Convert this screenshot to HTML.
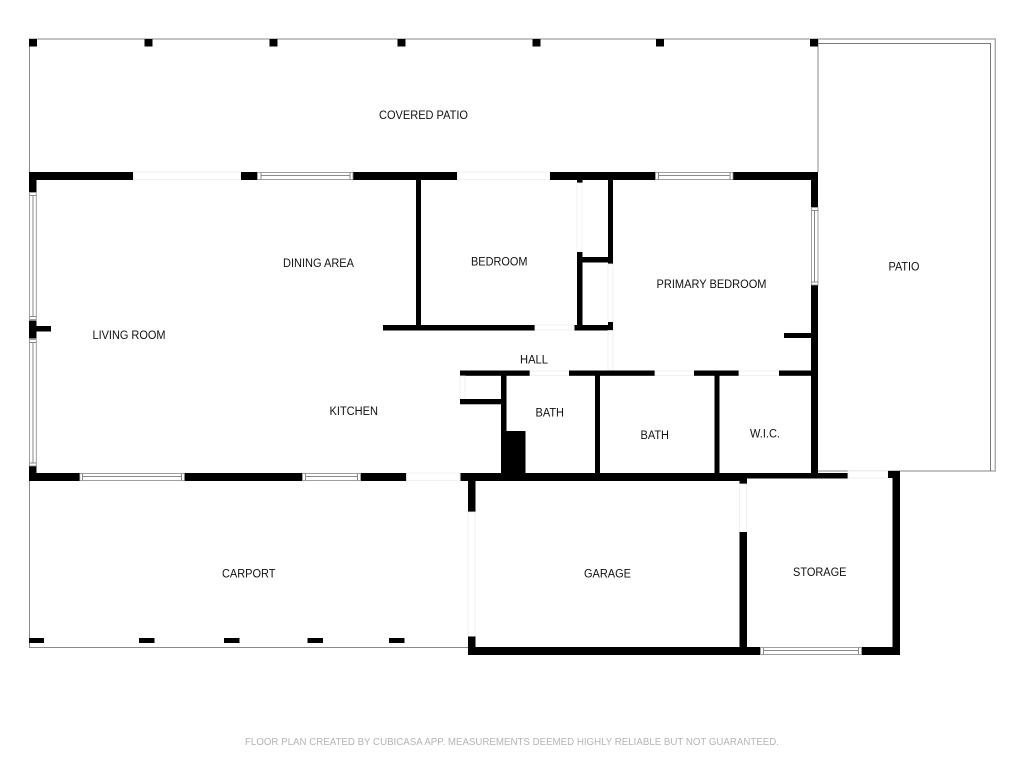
<!DOCTYPE html>
<html>
<head>
<meta charset="utf-8">
<style>
html,body{margin:0;padding:0;background:#fff;width:1024px;height:768px;overflow:hidden}
svg{display:block}
text{font-family:"Liberation Sans",sans-serif;font-size:11.5px;fill:#111}
.w{fill:#000}
.d{fill:#fff;stroke:#eee;stroke-width:.8}
.l{fill:none;stroke:#8a8a8a;stroke-width:1}
.win{fill:#fff;stroke:#888;stroke-width:.8}
</style>
</head>
<body>
<svg width="1024" height="768" viewBox="0 0 1024 768" xmlns="http://www.w3.org/2000/svg">
<rect width="1024" height="768" fill="#fff"/>

<!-- outlines -->
<path class="l" d="M29.5 172V39H818V172"/>
<path class="l" d="M818 39H995.5V471H818"/>
<path d="M818 43.5H990.5V471" fill="none" stroke="#777" stroke-width="1"/>
<path d="M995.3 39V471" fill="none" stroke="#aaa" stroke-width="1.4"/>
<path class="l" d="M29.5 481V647.5H468"/>

<!-- patio posts -->
<rect class="w" x="29" y="39" width="8" height="7.5"/>
<rect class="w" x="144.5" y="39" width="8" height="7.5"/>
<rect class="w" x="269.5" y="39" width="8" height="7.5"/>
<rect class="w" x="397.5" y="39" width="8" height="7.5"/>
<rect class="w" x="532.5" y="39" width="8" height="7.5"/>
<rect class="w" x="656" y="39" width="8" height="7.5"/>
<rect class="w" x="810" y="39" width="8" height="7.5"/>

<!-- carport posts -->
<rect class="w" x="29" y="638" width="15" height="5"/>
<rect class="w" x="139" y="638" width="15.5" height="5"/>
<rect class="w" x="224" y="638" width="15.5" height="5"/>
<rect class="w" x="307.5" y="638" width="15.5" height="5"/>
<rect class="w" x="389" y="638" width="15.5" height="5"/>

<!-- top wall -->
<rect class="w" x="29" y="172" width="104" height="8"/>
<rect class="d" x="133.5" y="172" width="107" height="7.5"/>
<rect class="w" x="241" y="172" width="16" height="8"/>
<rect class="w" x="353" y="172" width="104" height="8"/>
<rect class="d" x="457.5" y="172" width="92" height="7.5"/>
<rect class="w" x="550" y="172" width="105" height="8"/>
<rect class="w" x="733" y="172" width="85" height="8"/>

<!-- left wall -->
<rect class="w" x="29" y="172" width="7.5" height="20"/>
<rect class="w" x="29" y="320.5" width="7.5" height="18"/>
<rect class="w" x="36" y="326" width="15" height="5.5"/>
<rect class="w" x="29" y="466" width="7.5" height="15"/>

<!-- bottom wall -->
<rect class="w" x="29" y="473" width="50.5" height="8"/>
<rect class="w" x="184.5" y="473" width="117.5" height="8"/>
<rect class="w" x="361" y="473" width="45.5" height="8"/>
<rect class="d" x="406.5" y="473" width="53.5" height="7.5"/>
<rect class="w" x="460.5" y="473" width="284" height="8"/>
<rect class="w" x="740" y="473" width="108" height="5.5"/>
<rect class="w" x="811" y="473" width="7" height="5"/>

<!-- primary right wall -->
<rect class="w" x="811" y="172" width="7" height="35"/>
<rect class="w" x="811" y="285" width="7" height="193"/>
<rect class="w" x="784" y="333" width="27" height="5"/>

<!-- storage -->
<rect class="d" x="848" y="471" width="40" height="7"/>
<rect class="w" x="888" y="471" width="12" height="7"/>
<rect class="w" x="892.5" y="471" width="7.5" height="184"/>
<rect class="w" x="468" y="647" width="292" height="8"/>
<rect class="w" x="862" y="647" width="38" height="8"/>

<!-- garage -->
<rect class="w" x="468" y="481" width="7.5" height="31"/>
<rect class="d" x="468" y="512" width="7" height="124.5"/>
<rect class="w" x="468" y="636.5" width="7.5" height="18"/>
<rect class="w" x="739.5" y="478" width="7.5" height="6"/>
<rect class="d" x="739.5" y="484" width="7" height="48"/>
<rect class="w" x="739.5" y="532" width="7.5" height="123"/>

<!-- bedroom walls -->
<rect class="w" x="416" y="180" width="5" height="146"/>
<rect class="w" x="383" y="325" width="152" height="5.5"/>
<rect class="d" x="535" y="325" width="39" height="5"/>
<rect class="w" x="574.5" y="325" width="38.5" height="5.5"/>
<rect class="w" x="577" y="180" width="5.5" height="3"/>
<rect class="d" x="577" y="183" width="5" height="69"/>
<rect class="w" x="577" y="252" width="5.5" height="74"/>
<rect class="w" x="577" y="257" width="36" height="5.5"/>
<rect class="w" x="608" y="180" width="5" height="84"/>
<rect class="d" x="608" y="264" width="5" height="58"/>
<rect class="w" x="608" y="322" width="5" height="8.5"/>
<rect class="d" x="608" y="330.5" width="5" height="40"/>

<!-- hall wall -->
<rect class="w" x="460" y="370.5" width="70" height="5.3"/>
<rect class="d" x="530" y="371" width="39" height="4.5"/>
<rect class="w" x="569" y="370.5" width="86" height="5.3"/>
<rect class="d" x="655" y="371" width="39" height="4.5"/>
<rect class="w" x="694" y="370.5" width="45" height="5.3"/>
<rect class="d" x="739" y="371" width="40" height="4.5"/>
<rect class="w" x="779" y="370.5" width="32" height="5.3"/>

<!-- closet and baths -->
<rect class="d" x="460" y="376" width="5" height="23"/>
<rect class="w" x="460" y="399" width="41" height="5.3"/>
<rect class="w" x="501" y="375" width="5.5" height="98"/>
<rect class="w" x="501" y="431" width="24.5" height="42"/>
<rect class="w" x="595" y="375" width="5" height="98"/>
<rect class="w" x="714.5" y="375" width="5" height="98"/>

<!-- windows -->
<g>
<rect class="win" x="257.5" y="172.5" width="95.5" height="7"/>
<path class="l" d="M261 172.5V179.5M350 172.5V179.5M261 175.5H350"/>
<rect class="win" x="655.5" y="172.5" width="77.5" height="7"/>
<path class="l" d="M658.5 172.5V179.5M730 172.5V179.5M658.5 175.5H730"/>
<rect class="win" x="79.8" y="473.5" width="104.7" height="7"/>
<path class="l" d="M82.5 473.5V480.5M181.5 473.5V480.5M82.5 476.5H181.5"/>
<rect class="win" x="302.5" y="473.5" width="58" height="7"/>
<path class="l" d="M305.5 473.5V480.5M357.5 473.5V480.5M305.5 476.5H357.5"/>
<rect class="win" x="760.5" y="647.5" width="101" height="7"/>
<path class="l" d="M763.5 647.5V654.5M858.5 647.5V654.5M763.5 650.5H858.5"/>
<rect class="win" x="29.5" y="192.5" width="6.8" height="127"/>
<path class="l" d="M29.5 195.5H36.3M29.5 316.5H36.3M33 195.5V316.5"/>
<rect class="win" x="29.5" y="339.5" width="6.8" height="126.5"/>
<path class="l" d="M29.5 342.5H36.3M29.5 463H36.3M33 342.5V463"/>
<rect class="win" x="811.5" y="207.5" width="6.5" height="77.5"/>
<path class="l" d="M811.5 210.5H818M811.5 282H818M814.5 210.5V282"/>
</g>

<!-- labels -->
<text x="379" y="119" textLength="89" lengthAdjust="spacingAndGlyphs">COVERED PATIO</text>
<text x="283" y="267" textLength="71" lengthAdjust="spacingAndGlyphs">DINING AREA</text>
<text x="92.5" y="339" textLength="73" lengthAdjust="spacingAndGlyphs">LIVING ROOM</text>
<text x="471" y="265.5" textLength="56.5" lengthAdjust="spacingAndGlyphs">BEDROOM</text>
<text x="656.5" y="288" textLength="110" lengthAdjust="spacingAndGlyphs">PRIMARY BEDROOM</text>
<text x="888.5" y="270.5" textLength="31" lengthAdjust="spacingAndGlyphs">PATIO</text>
<text x="520" y="363.5" textLength="28" lengthAdjust="spacingAndGlyphs">HALL</text>
<text x="329.5" y="415" textLength="48.5" lengthAdjust="spacingAndGlyphs">KITCHEN</text>
<text x="535.5" y="416.5" textLength="28.5" lengthAdjust="spacingAndGlyphs">BATH</text>
<text x="640.5" y="439" textLength="28.5" lengthAdjust="spacingAndGlyphs">BATH</text>
<text x="750" y="437.5" textLength="30" lengthAdjust="spacingAndGlyphs">W.I.C.</text>
<text x="222" y="577.5" textLength="53.5" lengthAdjust="spacingAndGlyphs">CARPORT</text>
<text x="584" y="577.5" textLength="47" lengthAdjust="spacingAndGlyphs">GARAGE</text>
<text x="793" y="576" textLength="53.5" lengthAdjust="spacingAndGlyphs">STORAGE</text>
<text x="245" y="745" textLength="534" lengthAdjust="spacingAndGlyphs" style="font-size:10px;fill:#b5b5b5">FLOOR PLAN CREATED BY CUBICASA APP. MEASUREMENTS DEEMED HIGHLY RELIABLE BUT NOT GUARANTEED.</text>
</svg>
</body>
</html>
